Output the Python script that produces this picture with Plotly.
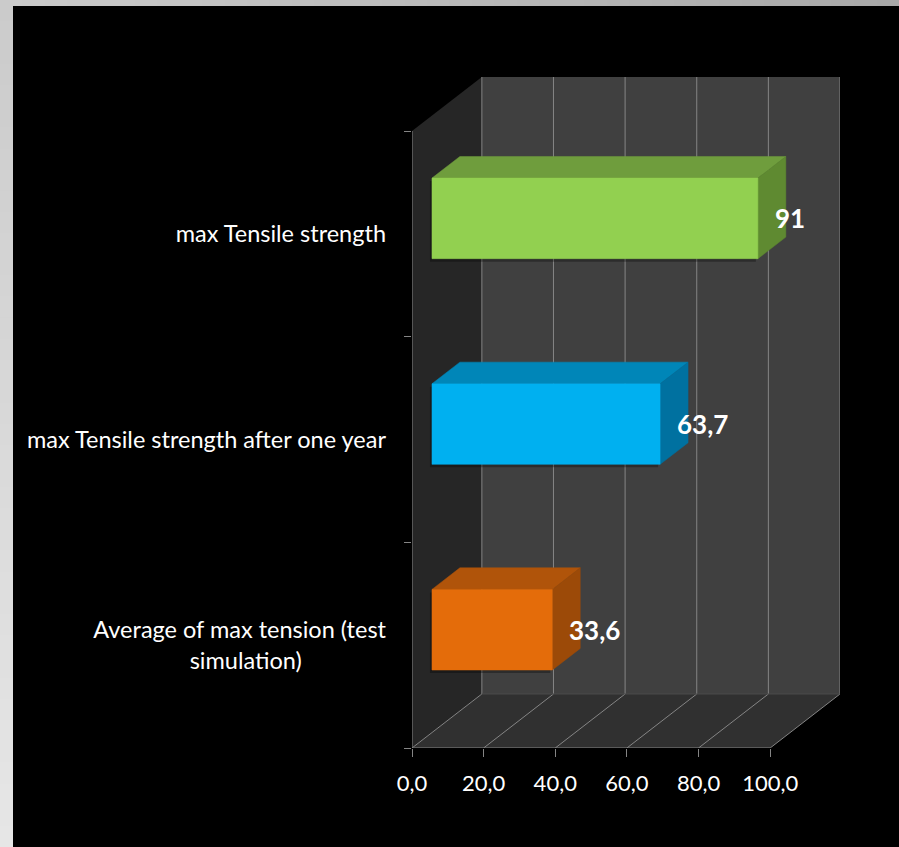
import plotly.graph_objects as go

# ---------------- data ----------------
categories = ["Average of max tension (test<br>simulation)" + "\u00a0" * 14,
              "max Tensile strength after one year",
              "max Tensile strength"]
values = [33.6, 63.7, 91]
front_colors = ["#E46C0A", "#00B0F0", "#92D050"]
top_colors = ["#B0540A", "#0086B8", "#6F9D3D"]
side_colors = ["#9C4A08", "#0071A0", "#5F8A31"]
x_ticks = [0, 20, 40, 60, 80, 100]

# ---------------- geometry ----------------
W, H = 899, 847
L_PX, R_PX, T_PX, B_PX = 412, 840, 77, 748
DX = 19.5          # depth offset in value units
DY = 0.2626        # depth offset in category units
F1, F2 = 0.286, 0.686   # bar depth (front/back)
HALF = 0.196
XMAX = 100 + DX
YMIN, YMAX = -0.5, 2.5 + DY


def proj(v, c, d):
    return v + d * DX, c + d * DY


def poly(pts):
    xs = [p[0] for p in pts] + [pts[0][0]]
    ys = [p[1] for p in pts] + [pts[0][1]]
    return xs, ys


def path(pts):
    return "M " + " L ".join(f"{x},{y}" for x, y in pts) + " Z"


fig = go.Figure()
shapes = []

# walls
floor = [proj(0, YMIN, 0), proj(100, YMIN, 0), proj(100, YMIN, 1), proj(0, YMIN, 1)]
side = [proj(0, YMIN, 0), proj(0, YMIN, 1), proj(0, 2.5, 1), proj(0, 2.5, 0)]
back = [proj(0, YMIN, 1), proj(100, YMIN, 1), proj(100, 2.5, 1), proj(0, 2.5, 1)]
for pts, col in [(back, "#404040"), (side, "#262626"), (floor, "#303030")]:
    shapes.append(dict(type="path", path=path(pts), xref="x", yref="y",
                       fillcolor=col, line=dict(width=0), layer="below"))

grid_col = "#858585"
for t in x_ticks:
    x0, y0 = proj(t, YMIN, 1)
    x1, y1 = proj(t, 2.5, 1)
    shapes.append(dict(type="line", x0=x0, y0=y0, x1=x1, y1=y1, xref="x", yref="y",
                       line=dict(color=grid_col, width=1), layer="below"))
    a0, b0 = proj(t, YMIN, 0)
    shapes.append(dict(type="line", x0=a0, y0=b0, x1=x0, y1=y0, xref="x", yref="y",
                       line=dict(color=grid_col, width=1), layer="below"))
# back-wall / floor seam
bx0, by0 = proj(0, YMIN, 1)
bx1, by1 = proj(100, YMIN, 1)
shapes.append(dict(type="line", x0=bx0, y0=by0, x1=bx1, y1=by1, xref="x", yref="y",
                   line=dict(color="#4a4a4a", width=1), layer="below"))
# front axis lines
shapes.append(dict(type="line", x0=0, y0=YMIN, x1=100, y1=YMIN, xref="x", yref="y",
                   line=dict(color=grid_col, width=1), layer="below"))
shapes.append(dict(type="line", x0=0, y0=YMIN, x1=0, y1=2.5, xref="x", yref="y",
                   line=dict(color=grid_col, width=1), layer="below"))

# bars
SPX = XMAX / (R_PX - L_PX)      # value units per pixel
SPY = (YMAX - YMIN) / (B_PX - T_PX)
annotations = []
for i, (cat, v) in enumerate(zip(categories, values)):
    c = i
    # soft shadow
    sh = [proj(0, c - HALF, F1), proj(v, c - HALF, F1), proj(v, c + HALF, F1), proj(0, c + HALF, F1)]
    sh = [(x - 2 * SPX, y - 3 * SPY) for x, y in sh]
    xs, ys = poly(sh)
    fig.add_trace(go.Scatter(x=xs, y=ys, fill="toself", fillcolor="rgba(0,0,0,0.3)",
                             line=dict(width=0), mode="lines", hoverinfo="skip", showlegend=False))
    top = [proj(0, c + HALF, F1), proj(v, c + HALF, F1), proj(v, c + HALF, F2), proj(0, c + HALF, F2)]
    rside = [proj(v, c - HALF, F1), proj(v, c + HALF, F1), proj(v, c + HALF, F2), proj(v, c - HALF, F2)]
    front = [proj(0, c - HALF, F1), proj(v, c - HALF, F1), proj(v, c + HALF, F1), proj(0, c + HALF, F1)]
    for pts, col in [(top, top_colors[i]), (rside, side_colors[i]), (front, front_colors[i])]:
        xs, ys = poly(pts)
        fig.add_trace(go.Scatter(x=xs, y=ys, fill="toself", fillcolor=col,
                                 line=dict(width=0.5, color=col), mode="lines",
                                 hoverinfo="skip", showlegend=False))
    lx, ly = proj(v, c, F1)
    label = f"{v:g}".replace(".", ",")
    annotations.append(dict(x=lx, y=ly, xref="x", yref="y", text=f"<b>{label}</b>",
                            showarrow=False, xanchor="left", yanchor="middle", xshift=15,
                            font=dict(family="Lato", size=26, color="white")))

# outer light frame (gradient strips)
def px2paper_x(px):
    return (px - L_PX) / (R_PX - L_PX)


def px2paper_y(py):
    return (B_PX - py) / (B_PX - T_PX)


N = 40
for k in range(N):
    t = k / (N - 1)
    g = int(round(0xCB + (0xA8 - 0xCB) * t))
    shapes.append(dict(type="rect", xref="paper", yref="paper",
                       x0=px2paper_x(W * k / N), x1=px2paper_x(W * (k + 1) / N + 1),
                       y0=px2paper_y(6), y1=px2paper_y(0),
                       fillcolor=f"rgb({g},{g},{g})", line=dict(width=0), layer="above"))
    g2 = int(round(0xCB + (0xE6 - 0xCB) * t))
    shapes.append(dict(type="rect", xref="paper", yref="paper",
                       x0=px2paper_x(0), x1=px2paper_x(13),
                       y0=px2paper_y(H * (k + 1) / N + 1), y1=px2paper_y(H * k / N),
                       fillcolor=f"rgb({g2},{g2},{g2})", line=dict(width=0), layer="above"))

fig.update_layout(
    width=W, height=H, autosize=False,
    margin=dict(l=L_PX, r=W - R_PX, t=T_PX, b=H - B_PX, pad=0),
    paper_bgcolor="black", plot_bgcolor="black",
    separators=",.",
    showlegend=False,
    shapes=shapes,
    annotations=annotations,
    font=dict(family="Lato", size=20, color="white"),
    xaxis=dict(range=[0, XMAX], tickvals=x_ticks, tickformat=".1f",
               ticks="outside", ticklen=8, tickcolor=grid_col, tickwidth=1,
               showgrid=False, zeroline=False, showline=False,
               tickfont=dict(family="Lato", size=22, color="white"),
               ticklabelstandoff=8, fixedrange=True),
    yaxis=dict(range=[YMIN, YMAX], tickvals=list(range(len(categories))), ticktext=categories,
               ticks="", showgrid=False, zeroline=False, showline=False,
               minor=dict(tickvals=[-0.5, 0.5, 1.5, 2.5], ticks="outside", ticklen=7,
                          tickcolor=grid_col, tickwidth=1, showgrid=False),
               tickfont=dict(family="Lato", size=23.5, color="white"),
               ticklabelstandoff=25, fixedrange=True),
)

fig.write_html("out.html")
